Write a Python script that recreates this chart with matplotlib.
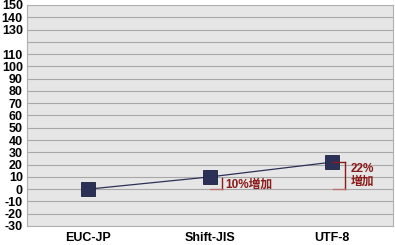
import matplotlib.pyplot as plt

# data
categories = ["EUC-JP", "Shift-JIS", "UTF-8"]
values = [0, 10, 22]
y_ticks = [150, 140, 130, 110, 100, 90, 80, 70, 60, 50, 40, 30, 20, 10, 0, -10, -20, -30]
notes = ["10%増加", "22%\n増加"]

plt.rcParams["font.family"] = ["Liberation Sans", "Noto Sans CJK JP", "DejaVu Sans"]

fig = plt.figure(figsize=(3.95, 2.45), dpi=100)
ax = fig.add_axes([27 / 395, 19 / 245, 366 / 395, 221 / 245])
ax.set_facecolor("#e6e6e6")

x = list(range(len(categories)))
ax.set_xlim(-0.5, 2.5)
ax.set_ylim(-30, 150)

for g in range(-30, 151, 10):
    ax.axhline(g, color="#a8a8a8", lw=0.8, zorder=1)

ax.plot(x, values, color="#2b3057", lw=0.9, zorder=3)
ax.plot(x, values, "s", ms=10, mfc="#2b3057", mec="#1c1f3a", mew=0.6, zorder=4)

red = "#8b1a1a"
pink = "#c07070"
# bracket for Shift-JIS
ax.plot([1.1, 1.1], [values[1] - 1, 0], color=red, lw=1, zorder=5)
ax.plot([1.0, 1.1], [0, 0], color=pink, lw=1, zorder=5)
ax.text(1.125, 3.2, notes[0], color=red, fontsize=8.5, fontweight="bold",
        va="center", ha="left", zorder=6)
# bracket for UTF-8
ax.plot([2.11, 2.11], [values[2], 0], color=red, lw=1, zorder=5)
ax.plot([2.0, 2.11], [values[2], values[2]], color=red, lw=1, zorder=5)
ax.plot([2.01, 2.11], [0, 0], color=pink, lw=1, zorder=5)
ax.text(2.155, 11.5, notes[1], color=red, fontsize=8.5, fontweight="bold",
        va="center", ha="left", linespacing=1.05, zorder=6)

ax.set_xticks(x)
ax.set_xticklabels(categories, fontsize=9, fontweight="bold")
ax.set_yticks(y_ticks)
ax.set_yticklabels([str(t) for t in y_ticks], fontsize=9, fontweight="bold")
ax.tick_params(length=0, pad=3)
ax.tick_params(axis="x", pad=4)

for s in ax.spines.values():
    s.set_color("#b0b0b0")
    s.set_linewidth(0.8)

fig.savefig("out.png", dpi=100)
